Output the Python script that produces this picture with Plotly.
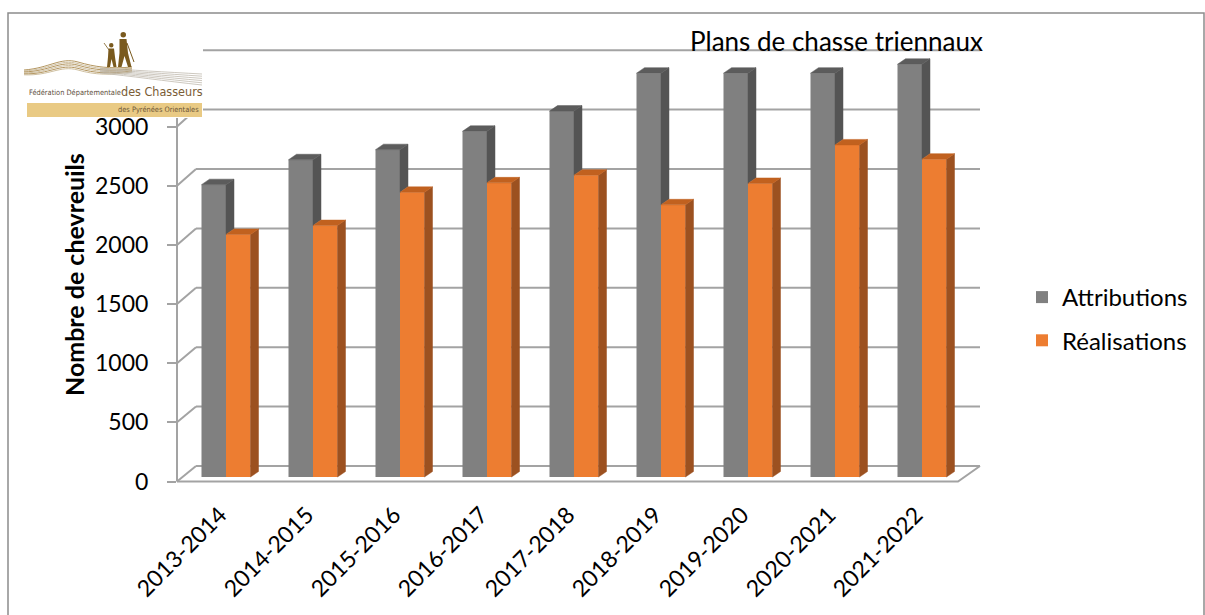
import plotly.graph_objects as go

# ---- data -------------------------------------------------------------
periodes = ["2013-2014", "2014-2015", "2015-2016", "2016-2017", "2017-2018",
            "2018-2019", "2019-2020", "2020-2021", "2021-2022"]
attributions = [2465, 2675, 2760, 2915, 3085, 3405, 3405, 3405, 3480]
realisations = [2045, 2120, 2400, 2480, 2545, 2295, 2475, 2800, 2680]
graduations = [0, 500, 1000, 1500, 2000, 2500, 3000]
paliers_mur = [0, 500, 1000, 1500, 2000, 2500, 3000, 3500]

# ---- geometry of the pseudo-3D scene (pixels) --------------------------
W, H = 1205, 615
L, R, T, B = 177, 982, 45, 484          # plot area
ZERO_PX, KY = 477, 0.1186                # column plane: base and px per unit
X0_PX, KX = 226, 87.0                    # first category centre, px per category
FRONT_ZERO, KF = 481.5, 0.1183           # front plane (axis labels)
BACK_ZERO, KB = 466, 0.1188              # back wall
BACK_LEFT, BACK_RIGHT = 196, 980
FRONT_LEFT, FRONT_RIGHT = 177, 958

BAR_W = 24.5 / KX                        # column width in category units
DX = 8 / KX                              # depth offset of column faces
DY = 5.5 / KY

x_range = [(L - X0_PX) / KX, (R - X0_PX) / KX]
y_range = [-(B - ZERO_PX) / KY, (ZERO_PX - T) / KY]
y2_range = [-(B - FRONT_ZERO) / KF, (FRONT_ZERO - T) / KF]

FONT = "Lato, 'Open Sans', sans-serif"
NARROW = "'Liberation Sans Narrow', 'DejaVu Sans Condensed', 'Liberation Sans', sans-serif"


def px(x):
    return (x - L) / (R - L)


def py(y):
    return (B - y) / (B - T)


idx = list(range(len(periodes)))


def faces(lefts, tops, bottoms):
    """Side and top faces of columns, as None-separated polygons."""
    sx, sy, cx, cy = [], [], [], []
    for x0, top, bot in zip(lefts, tops, bottoms):
        x1 = x0 + BAR_W
        if top > bot:
            sx += [x1, x1, x1 + DX, x1 + DX, x1, None]
            sy += [bot, top, top + DY, bot + DY, bot, None]
        cx += [x0, x1, x1 + DX, x0 + DX, x0, None]
        cy += [top, top, top + DY, top + DY, top, None]
    return sx, sy, cx, cy


gray_left = [i - BAR_W for i in idx]
orange_left = [float(i) for i in idx]
# the grey side face is hidden by the orange column in front of it
gray_side_bottom = [min(a, r) for a, r in zip(attributions, realisations)]
gsx, gsy, gcx, gcy = faces(gray_left, attributions, gray_side_bottom)
osx, osy, ocx, ocy = faces(orange_left, realisations, [0] * len(idx))

fig = go.Figure()
fig.add_trace(go.Bar(x=idx, y=attributions, width=BAR_W, offset=-BAR_W,
                     name="Attributions", legendgroup="a",
                     marker=dict(color="#808080", line=dict(width=0))))
fig.add_trace(go.Bar(x=idx, y=realisations, width=BAR_W, offset=0,
                     name="Réalisations", legendgroup="r",
                     marker=dict(color="#ED7D31", line=dict(width=0))))


def poly(xs, ys, color):
    return go.Scatter(x=xs, y=ys, mode="lines", fill="toself", fillcolor=color,
                      line=dict(color=color, width=0.5), showlegend=False,
                      hoverinfo="skip")


fig.add_trace(poly(gsx, gsy, "#545454"))
fig.add_trace(poly(gcx, gcy, "#5C5C5C"))
fig.add_trace(poly(osx, osy, "#9C5120"))
fig.add_trace(poly(ocx, ocy, "#C1611F"))
# empty trace so that the front-plane value axis is drawn
fig.add_trace(go.Scatter(x=[None], y=[None], yaxis="y2", mode="lines",
                         showlegend=False, hoverinfo="skip"))

shapes = []
GRID = dict(color="#A3A3A3", width=2)

# back wall gridlines and their returns on the side wall
for v in paliers_mur:
    yb = BACK_ZERO - KB * v
    yf = FRONT_ZERO - KF * v
    shapes.append(dict(type="line", xref="paper", yref="paper", layer="below",
                       x0=px(BACK_LEFT), x1=px(BACK_RIGHT), y0=py(yb), y1=py(yb), line=GRID))
    shapes.append(dict(type="line", xref="paper", yref="paper", layer="below",
                       x0=px(FRONT_LEFT), x1=px(BACK_LEFT), y0=py(yf), y1=py(yb), line=GRID))

# front edge of the side wall
shapes.append(dict(type="line", xref="paper", yref="paper", layer="below",
                   x0=px(FRONT_LEFT), x1=px(FRONT_LEFT),
                   y0=py(FRONT_ZERO), y1=py(FRONT_ZERO - KF * 3500), line=GRID))
# floor front and right edges
shapes.append(dict(type="path", xref="paper", yref="paper", layer="below",
                   path=f"M{px(FRONT_LEFT)},{py(FRONT_ZERO)} L{px(FRONT_RIGHT)},{py(FRONT_ZERO)} "
                        f"L{px(BACK_RIGHT)},{py(BACK_ZERO)}", line=GRID))

# outer frame of the chart
shapes.append(dict(type="rect", xref="paper", yref="paper", layer="below",
                   x0=px(8), x1=px(1204), y0=py(13), y1=py(640),
                   line=dict(color="#8C8C8C", width=1.5)))


# ---- federation logo -------------------------------------------------
def ppath(pts, close=False):
    s = "M" + " L".join(f"{px(x)},{py(y)}" for x, y in pts)
    return s + (" Z" if close else "")


def pcurve(p0, c1, c2, p1):
    return (f"M{px(p0[0])},{py(p0[1])} C{px(c1[0])},{py(c1[1])} "
            f"{px(c2[0])},{py(c2[1])} {px(p1[0])},{py(p1[1])}")


logo = []
logo.append(dict(type="rect", x0=px(22), x1=px(203), y0=py(29), y1=py(118),
                 fillcolor="white", line=dict(width=0)))
logo.append(dict(type="rect", x0=px(27), x1=px(202), y0=py(103), y1=py(117),
                 fillcolor="#E9CA84", line=dict(width=0)))
# landscape lines
for k in range(6):
    o = k * 1.6
    col = "#C2AE88" if k % 2 else "#A07A36"
    logo.append(dict(type="path", path=pcurve((24, 70 + o * 0.6), (50, 68 + o), (60, 57 + o), (78, 62 + o)),
                     line=dict(color=col, width=0.8)))
    logo.append(dict(type="path", path=pcurve((78, 62 + o), (95, 67 + o), (110, 69 + o * 0.8), (132, 67 + o * 0.6)),
                     line=dict(color=col, width=0.8)))
for k in range(6):
    logo.append(dict(type="path", path=pcurve((100, 68 + k), (130, 70 + k * 1.2), (165, 72 + k * 1.8), (202, 74 + k * 2.2)),
                     line=dict(color="#B7B0A4", width=0.7)))
# hunters
BROWN = "#7A5A1E"
logo.append(dict(type="circle", x0=px(120.5), x1=px(126), y0=py(32), y1=py(37.5),
                 fillcolor=BROWN, line=dict(width=0)))
logo.append(dict(type="path", path=ppath([(119.5, 39), (126.5, 39), (128, 53), (131.5, 67), (128, 67),
                                          (124.5, 56), (121.5, 67), (118, 67), (119.5, 53)], True),
                 fillcolor=BROWN, line=dict(width=0)))
logo.append(dict(type="path", path=ppath([(127, 43), (134, 62)]), line=dict(color=BROWN, width=1)))
logo.append(dict(type="circle", x0=px(109), x1=px(113.5), y0=py(43), y1=py(47.5),
                 fillcolor=BROWN, line=dict(width=0)))
logo.append(dict(type="path", path=ppath([(108.5, 48.5), (114, 48.5), (115, 57), (116.5, 67), (113.5, 67),
                                          (111.5, 59), (110, 67), (107, 67), (108, 57)], True),
                 fillcolor=BROWN, line=dict(width=0)))
logo.append(dict(type="path", path=ppath([(109, 50), (104, 43)]), line=dict(color=BROWN, width=0.8)))
for s in logo:
    s.update(xref="paper", yref="paper", layer="above")
shapes += logo

annotations = [
    dict(text="Plans de chasse triennaux", x=px(836), y=py(41), xref="paper", yref="paper",
         xanchor="center", yanchor="middle",
         showarrow=False, font=dict(family=FONT, size=26, color="#000000")),
    dict(text="<b>Nombre de chevreuils</b>", x=px(74), y=py(275), xref="paper", yref="paper",
         xanchor="center", yanchor="middle",
         showarrow=False, textangle=-90, font=dict(family=FONT, size=25, color="#000000")),
    dict(text="Fédération Départementale", x=px(27), y=py(92), xref="paper", yref="paper",
         xanchor="left", yanchor="middle", showarrow=False,
         font=dict(family=NARROW, size=7.4, color="#5E4E3C")),
    dict(text="des Chasseurs", x=px(119), y=py(91), xref="paper", yref="paper",
         xanchor="left", yanchor="middle", showarrow=False,
         font=dict(family=NARROW, size=12.5, color="#7A5C35")),
    dict(text="des Pyrénées Orientales", x=px(201), y=py(110), xref="paper", yref="paper",
         xanchor="right", yanchor="middle", showarrow=False,
         font=dict(family=NARROW, size=7.4, color="#6B5536")),
]

fig.update_layout(
    width=W, height=H, autosize=False,
    margin=dict(l=L, r=W - R, t=T, b=H - B, pad=0),
    paper_bgcolor="white", plot_bgcolor="rgba(0,0,0,0)",
    barmode="overlay",
    showlegend=True,
    legend=dict(x=px(1022), y=py(275), xanchor="left", yanchor="top",
                font=dict(family=FONT, size=24, color="#000000"),
                traceorder="grouped", tracegroupgap=9, bgcolor="rgba(0,0,0,0)"),
    xaxis=dict(range=x_range, tickvals=idx, ticktext=periodes, tickangle=-45,
               showgrid=False, zeroline=False, showline=False, ticks="",
               ticklabelstandoff=12, ticklabelshift=-6,
               tickfont=dict(family=FONT, size=23, color="#000000")),
    yaxis=dict(range=y_range, showgrid=False, zeroline=False, showline=False,
               showticklabels=False, ticks=""),
    yaxis2=dict(range=y2_range, overlaying="y", side="left", anchor="x",
                tickvals=graduations, ticks="outside", ticklen=9, tickwidth=2,
                tickcolor="#A3A3A3", showgrid=False, zeroline=False, showline=False,
                ticklabelstandoff=14,
                tickfont=dict(family=FONT, size=23, color="#000000")),
    shapes=shapes,
    annotations=annotations,
)

fig.write_html("out.html")
